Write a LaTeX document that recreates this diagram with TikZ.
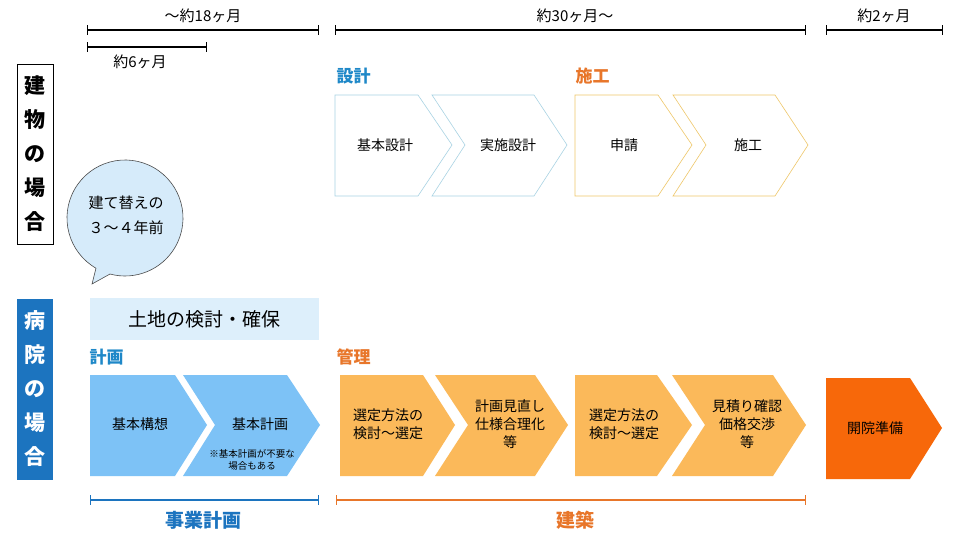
\documentclass[tikz,border=0pt]{standalone}
\usepackage{fontspec}
\usetikzlibrary{calc}
\setmainfont{Noto Sans CJK JP}
\begin{document}
\begin{tikzpicture}[x=1pt,y=-1pt,
  bl/.style={fill=cBlue},
  og/.style={fill=cOrange},
  tb/.style={draw=cLine,fill=white,line width=0.6pt},
  to/.style={draw=cOLine,fill=white,line width=0.6pt},
  txt/.style={font=\fontsize{14}{18}\selectfont,align=center},
  head/.style={font=\fontsize{17}{20}\selectfont\bfseries,anchor=west},
  tl/.style={line width=1.3pt,|-|},
  tlab/.style={font=\fontsize{15}{18}\selectfont}]
\definecolor{cBlue}{HTML}{7DC2F6}
\definecolor{cOrange}{HTML}{FBB95A}
\definecolor{cDark}{HTML}{F7680A}
\definecolor{cLine}{HTML}{A9D3E3}
\definecolor{cOLine}{HTML}{EFC76A}
\definecolor{cHB}{HTML}{1E88C8}
\definecolor{cHO}{HTML}{E8762A}
\definecolor{cBox}{HTML}{1C74BF}
\definecolor{cPale}{HTML}{DDEFFB}
\definecolor{cBub}{HTML}{D6EBFA}
\useasboundingbox (0,0) rectangle (960,540);
\fill[white] (0,0) rectangle (960,540);
% timelines
\draw[tl] (87,30) coordinate (a1) -- (319,30) coordinate (a2);
\node[tlab] (l18) at (203,16) {～約18ヶ月};
\draw[tl] (87,47) coordinate (b1) -- (207,47) coordinate (b2);
\node[tlab] (l6) at (140,62) {約6ヶ月};
\draw[tl] (335,30) coordinate (c1) -- (806,30) coordinate (c2);
\node[tlab] (l30) at (575,16) {約30ヶ月～};
\draw[tl] (826,30) coordinate (d1) -- (943,30) coordinate (d2);
\node[tlab] (l2) at (884,16) {約2ヶ月};
% left boxes
\node[draw=black,line width=0.7pt,minimum width=36pt,minimum height=180pt,inner sep=0pt,align=center,font=\fontsize{21}{34}\selectfont\bfseries] (bld) at (35,154) {建\\物\\の\\場\\合};
\node[fill=cBox,text=white,minimum width=36pt,minimum height=181pt,inner sep=0pt,align=center,font=\fontsize{21}{34}\selectfont\bfseries] (hos) at (35,389) {病\\院\\の\\場\\合};
% bubble
\coordinate (bc) at (125,218);
\draw[fill=cBub,draw=black!70,line width=0.6pt] (92,284) -- ($(bc)+(120:58)$) arc[start angle=120,end angle=465,radius=58] -- cycle;
\node[font=\fontsize{15}{25}\selectfont,align=center] (bub) at (126,215) {建て替えの\\３～４年前};
% land
\node[fill=cPale,minimum width=229pt,minimum height=42pt,inner sep=0pt,font=\fontsize{19}{22}\selectfont] (land) at (204.5,319) {土地の検討・確保};
% headings
\node[head,text=cHB] (h1) at (333,76) {設計};
\node[head,text=cHO] (h2) at (572,76) {施工};
\node[head,text=cHB] (h3) at (86,357) {計画};
\node[head,text=cHO] (h4) at (333,357) {管理};
% top chevrons
\draw[tb] (335,95) -- (418,95) -- (452,145) -- (418,196) -- (335,196) -- cycle;
\draw[tb] (432,95) -- (534,95) -- (567,145) -- (534,196) -- (432,196) -- (465,145) -- cycle;
\draw[to] (575,95) -- (658,95) -- (692,145) -- (658,196) -- (575,196) -- cycle;
\draw[to] (673,95) -- (775,95) -- (808,145) -- (775,196) -- (673,196) -- (706,145) -- cycle;
\node[txt] (t1) at (385,145) {基本設計};
\node[txt] (t2) at (508,145) {実施設計};
\node[txt] (t3) at (624,145) {申請};
\node[txt] (t4) at (748,145) {施工};
% bottom chevrons
\fill[bl] (90,375) -- (175,375) -- (207,425) -- (175,476) -- (90,476) -- cycle;
\fill[bl] (183,375) -- (287,375) -- (320,425) -- (287,476) -- (183,476) -- (215,425) -- cycle;
\node[txt] (p1) at (140,424) {基本構想};
\node[txt] (p2) at (260,424) {基本計画};
\node[font=\fontsize{9.5}{12}\selectfont,align=center] (p2n) at (252,460) {※基本計画が不要な\\場合もある};
\fill[og] (340,375) -- (423,375) -- (455,425) -- (423,476) -- (340,476) -- cycle;
\fill[og] (435,375) -- (535,375) -- (568,425) -- (535,476) -- (435,476) -- (468,425) -- cycle;
\fill[og] (575,375) -- (657,375) -- (692,425) -- (657,476) -- (575,476) -- cycle;
\fill[og] (672,375) -- (773,375) -- (806,425) -- (773,476) -- (672,476) -- (705,425) -- cycle;
\fill[cDark] (826,378) -- (910,378) -- (942,428) -- (910,479) -- (826,479) -- cycle;
\node[txt] (o1) at (388,424) {選定方法の\\検討～選定};
\node[txt] (o2) at (510,424) {計画見直し\\仕様合理化\\等};
\node[txt] (o3) at (624,424) {選定方法の\\検討～選定};
\node[txt] (o4) at (747,424) {見積り確認\\価格交渉\\等};
\node[txt] (o5) at (875,428) {開院準備};
% bottom lines
\draw[tl,draw=cBox] (90,500) coordinate (e1) -- (319,500) coordinate (e2);
\draw[tl,draw=cHO] (336,500) coordinate (f1) -- (806,500) coordinate (f2);
\node[font=\fontsize{19}{22}\selectfont\bfseries,text=cBox] (jg) at (203,520) {事業計画};
\node[font=\fontsize{19}{22}\selectfont\bfseries,text=cHO] (kc) at (575,520) {建築};
\end{tikzpicture}
\end{document}
